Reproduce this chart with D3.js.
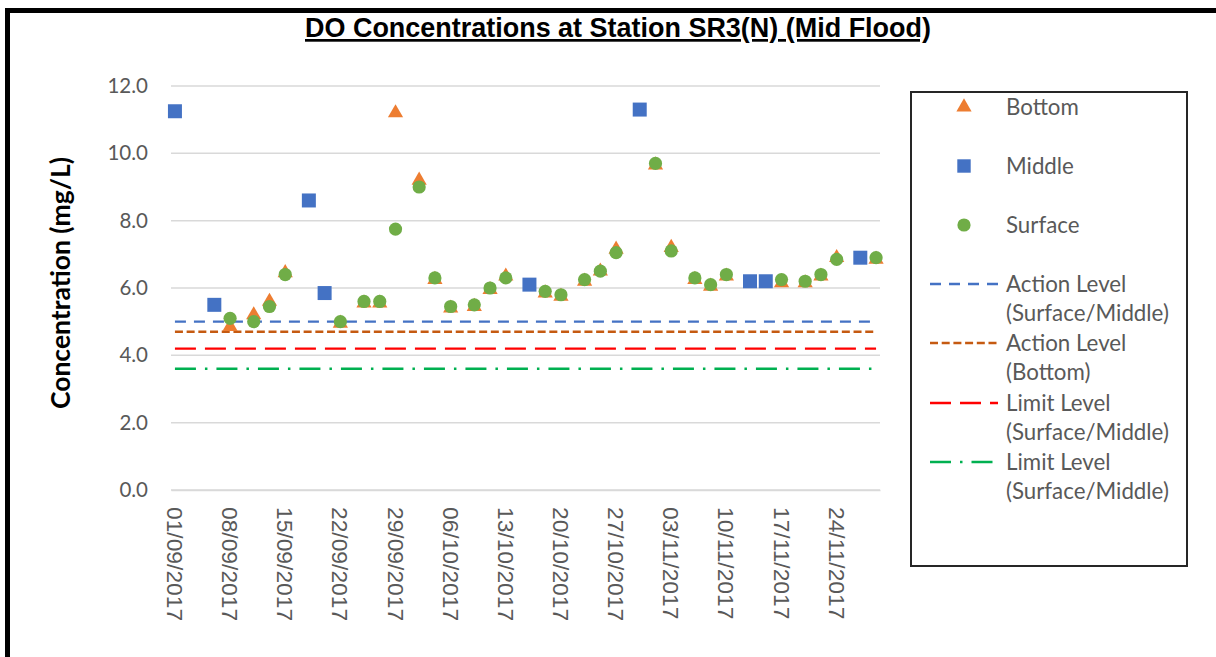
<!DOCTYPE html>
<html>
<head>
<meta charset="utf-8">
<script src="https://cdn.jsdelivr.net/npm/d3@7"></script>
<style>
  body { margin: 0; background: #fff; }
  #chart { width: 1216px; height: 657px; }
  .tick-lbl { fill: #595959; }
</style>
</head>
<body>
<div id="chart"></div>
<script>
// --- data ---
var firstDay = "2017-09-01";
var lastDay = "2017-11-29";

var tickLabels = ["01/09/2017", "08/09/2017", "15/09/2017", "22/09/2017", "29/09/2017",
  "06/10/2017", "13/10/2017", "20/10/2017", "27/10/2017", "03/11/2017",
  "10/11/2017", "17/11/2017", "24/11/2017"];

var bottomDates = ["2017-09-08", "2017-09-11", "2017-09-13", "2017-09-15", "2017-09-22",
  "2017-09-25", "2017-09-27", "2017-09-29", "2017-10-02", "2017-10-04", "2017-10-06",
  "2017-10-09", "2017-10-11", "2017-10-13", "2017-10-18", "2017-10-20", "2017-10-23",
  "2017-10-25", "2017-10-27", "2017-11-01", "2017-11-03", "2017-11-06", "2017-11-08",
  "2017-11-10", "2017-11-17", "2017-11-20", "2017-11-22", "2017-11-24", "2017-11-29"];
var bottomValues = [4.85, 5.2, 5.6, 6.45, 4.95, 5.55, 5.55, 11.2, 9.2, 6.25, 5.4,
  5.45, 5.95, 6.35, 5.85, 5.75, 6.2, 6.5, 7.15, 9.65, 7.2, 6.25, 6.05,
  6.35, 6.15, 6.15, 6.35, 6.9, 6.85];

var surfaceDates = bottomDates;
var surfaceValues = [5.1, 5.0, 5.45, 6.4, 5.0, 5.6, 5.6, 7.75, 9.0, 6.3, 5.45,
  5.5, 6.0, 6.3, 5.9, 5.8, 6.25, 6.5, 7.05, 9.7, 7.1, 6.3, 6.1,
  6.4, 6.25, 6.2, 6.4, 6.85, 6.9];

var middleDates = ["2017-09-01", "2017-09-06", "2017-09-18", "2017-09-20", "2017-10-16",
  "2017-10-30", "2017-11-13", "2017-11-15", "2017-11-27"];
var middleValues = [11.25, 5.5, 8.6, 5.85, 6.1, 11.3, 6.2, 6.2, 6.9];

var levelNames = [["Action Level", "(Surface/Middle)"], ["Action Level", "(Bottom)"],
  ["Limit Level", "(Surface/Middle)"], ["Limit Level", "(Surface/Middle)"]];
var levelValues = [5.0, 4.7, 4.2, 3.6];

var yTicks = [0, 2, 4, 6, 8, 10, 12];

// --- styles ---
var levelStyles = [
  { color: "#4472C4", dash: "11,8" },
  { color: "#C55A11", dash: "8,3.7" },
  { color: "#FF0000", dash: "21,9" },
  { color: "#00B050", dash: "21,9,2.5,9" }
];

function draw() {
  var width = 1216, height = 657;
  var plot = { left: 171, right: 880, top: 86, bottom: 490 };

  var parseKey = d3.timeParse("%Y-%m-%d");
  var fmtKey = d3.timeFormat("%Y-%m-%d");
  var parseLbl = d3.timeParse("%d/%m/%Y");

  var days = d3.timeDay.range(parseKey(firstDay), d3.timeDay.offset(parseKey(lastDay), 1)).map(fmtKey);

  var x = d3.scaleBand().domain(days).range([plot.left, plot.right]).padding(0);
  var cx = function(k) { return x(k) + x.bandwidth() / 2; };
  var y = d3.scaleLinear().domain([0, 12]).range([plot.bottom, plot.top]);

  var svg = d3.select("#chart")
    .append("svg")
      .attr("width", width)
      .attr("height", height);

  // outer frame
  svg.append("rect")
    .attr("x", 7.5).attr("y", 10.5)
    .attr("width", 1240).attr("height", 680)
    .style("fill", "#fff")
    .style("stroke", "#000")
    .style("stroke-width", 5);

  // title
  svg.append("text")
    .attr("x", 618).attr("y", 37)
    .attr("text-anchor", "middle")
    .attr("textLength", 626)
    .attr("lengthAdjust", "spacingAndGlyphs")
    .style("font-family", "'Liberation Sans Narrow', 'Arial Narrow', 'Liberation Sans', Arial, sans-serif")
    .style("font-weight", "bold")
    .style("font-size", "27px")
    .style("text-decoration", "underline")
    .style("fill", "#000")
    .text("DO Concentrations at Station SR3(N) (Mid Flood)");

  // gridlines
  svg.append("g").selectAll("line.grid")
    .data(yTicks)
    .enter().append("line")
      .attr("class", "grid")
      .attr("x1", plot.left).attr("x2", plot.right)
      .attr("y1", function(d) { return y(d); })
      .attr("y2", function(d) { return y(d); })
      .style("stroke", "#D9D9D9")
      .style("stroke-width", 1.5);

  // y axis
  var yAxis = svg.append("g")
    .attr("transform", "translate(" + plot.left + ",0)")
    .call(d3.axisLeft(y).tickValues(yTicks).tickFormat(d3.format(".1f")).tickSize(0).tickPadding(23));
  yAxis.select(".domain").remove();
  yAxis.selectAll("text")
    .attr("class", "tick-lbl")
    .style("font-family", "Lato, 'Open Sans', sans-serif")
    .style("font-size", "20.5px");

  svg.append("text")
    .attr("transform", "translate(70,283) rotate(-90)")
    .attr("text-anchor", "middle")
    .style("font-family", "Lato, 'Open Sans', sans-serif")
    .style("font-weight", "bold")
    .style("font-size", "26.5px")
    .style("fill", "#000")
    .text("Concentration (mg/L)");

  // x axis
  var tickKeys = tickLabels.map(function(t) { return fmtKey(parseLbl(t)); });
  var xAxis = svg.append("g")
    .attr("transform", "translate(0," + plot.bottom + ")")
    .call(d3.axisBottom(x).tickValues(tickKeys)
      .tickFormat(function(k, i) { return tickLabels[i]; })
      .tickSize(0));
  xAxis.select(".domain")
    .style("stroke", "#D9D9D9")
    .style("stroke-width", 1.5);
  xAxis.selectAll("text")
    .attr("class", "tick-lbl")
    .attr("transform", "rotate(90)")
    .attr("x", 17).attr("y", 0).attr("dy", "0.35em")
    .style("text-anchor", "start")
    .style("font-family", "'Liberation Sans', Arial, sans-serif")
    .style("font-size", "22.8px");

  // level lines
  var lineGen = d3.line()
    .x(function(d) { return cx(d.k); })
    .y(function(d) { return y(d.v); });

  levelValues.forEach(function(v, i) {
    svg.append("path")
      .datum([{ k: firstDay, v: v }, { k: lastDay, v: v }])
      .attr("d", lineGen)
      .style("fill", "none")
      .style("stroke", levelStyles[i].color)
      .style("stroke-width", 2.4)
      .style("stroke-dasharray", levelStyles[i].dash);
  });

  // markers
  var tri = d3.symbol(d3.symbolTriangle, 100);
  var sq = d3.symbol(d3.symbolSquare, 196);

  svg.append("g").selectAll("path.bottom")
    .data(bottomDates)
    .enter().append("path")
      .attr("class", "bottom")
      .attr("d", tri)
      .attr("transform", function(d, i) { return "translate(" + cx(d) + "," + y(bottomValues[i]) + ")"; })
      .style("fill", "#ED7D31");

  svg.append("g").selectAll("path.middle")
    .data(middleDates)
    .enter().append("path")
      .attr("class", "middle")
      .attr("d", sq)
      .attr("transform", function(d, i) { return "translate(" + cx(d) + "," + y(middleValues[i]) + ")"; })
      .style("fill", "#4472C4");

  svg.append("g").selectAll("circle.surface")
    .data(surfaceDates)
    .enter().append("circle")
      .attr("class", "surface")
      .attr("r", 6.6)
      .attr("cx", function(d) { return cx(d); })
      .attr("cy", function(d, i) { return y(surfaceValues[i]); })
      .style("fill", "#70AD47");

  // legend
  var legend = svg.append("g");
  legend.append("rect")
    .attr("x", 911).attr("y", 92)
    .attr("width", 276).attr("height", 474)
    .style("fill", "#fff")
    .style("stroke", "#262626")
    .style("stroke-width", 2);

  var lgFont = function(sel) {
    sel.style("font-family", "Lato, 'Open Sans', sans-serif")
      .style("font-size", "22.3px")
      .style("fill", "#595959");
  };

  var markerItems = [
    { name: "Bottom", y: 107 },
    { name: "Middle", y: 166 },
    { name: "Surface", y: 225 }
  ];
  legend.append("path")
    .attr("d", tri).attr("transform", "translate(964," + markerItems[0].y + ")")
    .style("fill", "#ED7D31");
  legend.append("path")
    .attr("d", d3.symbol(d3.symbolSquare, 180)).attr("transform", "translate(964," + markerItems[1].y + ")")
    .style("fill", "#4472C4");
  legend.append("circle")
    .attr("cx", 964).attr("cy", markerItems[2].y).attr("r", 6.6)
    .style("fill", "#70AD47");
  markerItems.forEach(function(m) {
    legend.append("text")
      .attr("x", 1006).attr("y", m.y).attr("dy", "0.35em")
      .call(lgFont)
      .text(m.name);
  });

  var levelY = [284, 343, 403, 462];
  levelNames.forEach(function(lines, i) {
    legend.append("line")
      .attr("x1", 930).attr("x2", 998)
      .attr("y1", levelY[i]).attr("y2", levelY[i])
      .style("stroke", levelStyles[i].color)
      .style("stroke-width", 2.4)
      .style("stroke-dasharray", levelStyles[i].dash);
    lines.forEach(function(t, j) {
      legend.append("text")
        .attr("x", 1006).attr("y", levelY[i] + j * 29.5).attr("dy", "0.35em")
        .call(lgFont)
        .text(t);
    });
  });
}

draw();
</script>
</body>
</html>
